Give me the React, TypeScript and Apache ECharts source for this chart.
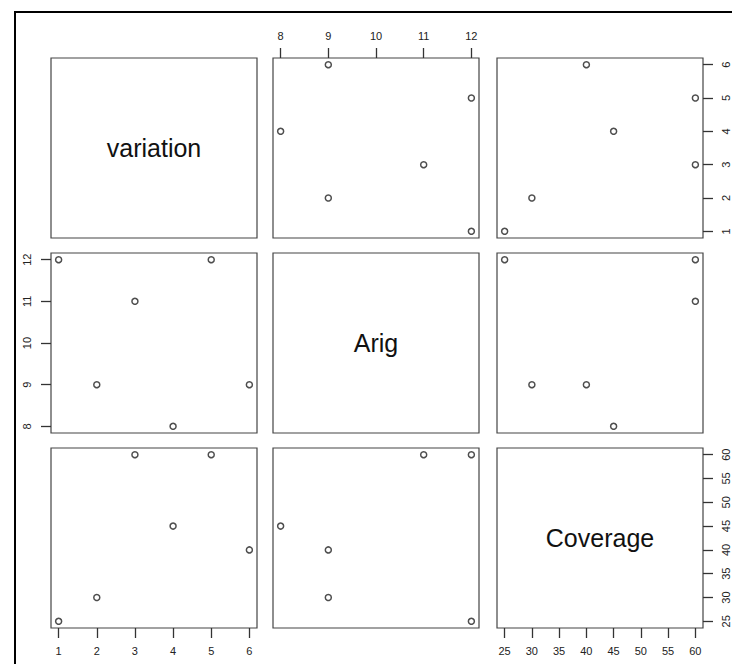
import React, { useEffect, useRef } from "react";
import * as echarts from "echarts";

const varNames = ["variation", "Arig", "Coverage"];
const variation = [1, 2, 3, 4, 5, 6];
const arig = [12, 9, 11, 8, 12, 9];
const coverage = [25, 30, 60, 45, 60, 40];
const variationTicks = [1, 2, 3, 4, 5, 6];
const arigTicks = [8, 9, 10, 11, 12];
const coverageTicks = [25, 30, 35, 40, 45, 50, 55, 60];

const FONT = "'Liberation Sans', Arial, sans-serif";

export default function App() {
  const ref = useRef<HTMLDivElement>(null);
  useEffect(() => {
    document.body.style.margin = "0";
    const chart = echarts.init(ref.current!, null, { renderer: "svg" });
    const vars = [variation, arig, coverage];
    const ticks = [variationTicks, arigTicks, coverageTicks];
    const ranges = vars.map((v) => {
      const mn = Math.min(...v);
      const mx = Math.max(...v);
      const pad = (mx - mn) * 0.04;
      return [mn - pad, mx + pad];
    });
    const colX = [51, 273, 497];
    const rowY = [58, 253, 448];
    const W = 206;
    const H = 180;

    const grids: any[] = [];
    const xAxes: any[] = [];
    const yAxes: any[] = [];
    const series: any[] = [];
    const graphics: any[] = [
      {
        type: "rect",
        shape: { x: 15, y: 12, width: 760, height: 700 },
        style: { fill: "none", stroke: "#000", lineWidth: 2 },
        silent: true,
      },
    ];

    let idx = 0;
    for (let i = 0; i < 3; i++) {
      for (let j = 0; j < 3; j++) {
        grids.push({
          left: colX[j],
          top: rowY[i],
          width: W,
          height: H,
          show: true,
          borderColor: "#444",
          borderWidth: 1.2,
          backgroundColor: "transparent",
          containLabel: false,
          outerBoundsMode: "none",
        });
        const xTop = i === 0 && j === 1;
        const xBottom = i === 2 && (j === 0 || j === 2);
        const yLeft = j === 0 && i === 1;
        const yRight = j === 2 && (i === 0 || i === 2);
        const xShow = xTop || xBottom;
        const yShow = yLeft || yRight;
        xAxes.push({
          type: "value",
          gridIndex: idx,
          min: ranges[j][0],
          max: ranges[j][1],
          position: xTop ? "top" : "bottom",
          axisLine: { show: false },
          splitLine: { show: false },
          axisTick: {
            show: xShow,
            length: 10,
            customValues: ticks[j],
            lineStyle: { color: "#333", width: 1.3 },
          },
          axisLabel: {
            show: xShow,
            customValues: ticks[j],
            margin: 17,
            fontSize: 11,
            fontFamily: FONT,
            color: "#222",
          },
        });
        yAxes.push({
          type: "value",
          gridIndex: idx,
          min: ranges[i][0],
          max: ranges[i][1],
          position: yRight ? "right" : "left",
          axisLine: { show: false },
          splitLine: { show: false },
          axisTick: {
            show: yShow,
            length: 10,
            customValues: ticks[i],
            lineStyle: { color: "#333", width: 1.3 },
          },
          axisLabel: {
            show: yShow,
            customValues: ticks[i],
            rotate: 90,
            margin: yRight ? 17 : 19,
            fontSize: 11,
            fontFamily: FONT,
            color: "#222",
          },
        });
        if (i === j) {
          graphics.push({
            type: "text",
            x: colX[j] + W / 2,
            y: rowY[i] + H / 2,
            style: {
              text: varNames[i],
              fontSize: 25,
              fontFamily: FONT,
              fill: "#111",
              align: "center",
              verticalAlign: "middle",
            },
            silent: true,
          });
        } else {
          series.push({
            type: "scatter",
            xAxisIndex: idx,
            yAxisIndex: idx,
            symbol: "circle",
            symbolSize: 6,
            itemStyle: { color: "#fff", borderColor: "#222", borderWidth: 1.5 },
            data: vars[j].map((v, k) => [v, vars[i][k]]),
          });
        }
        idx++;
      }
    }

    chart.setOption({
      animation: false,
      backgroundColor: "#fff",
      grid: grids,
      xAxis: xAxes,
      yAxis: yAxes,
      series,
      graphic: graphics,
    });
    return () => chart.dispose();
  }, []);
  return (
    <div
      ref={ref}
      style={{ position: "absolute", left: 0, top: 0, width: 732, height: 664 }}
    />
  );
}
